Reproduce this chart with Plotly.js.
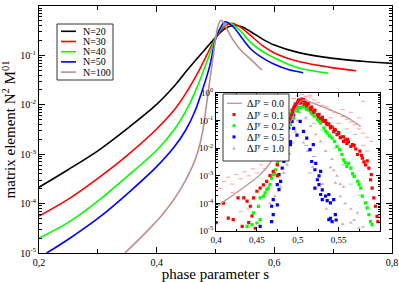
<!DOCTYPE html>
<html><head><meta charset="utf-8">
<script src="https://cdn.plot.ly/plotly-3.0.1.min.js"></script>
<style>html,body{margin:0;padding:0;background:#fff}#chart{width:399px;height:282px}</style>
</head><body><div id="chart"></div><script>
// ---- main panel data: N curves ----
const n20x = [0.20,0.25,0.30,0.35,0.40,0.43,0.45,0.475,0.50,0.515,0.53,0.545,0.56,0.58,0.60,0.64,0.70,0.75,0.80];
const n20y = [2.14e-4,4.9e-4,1.17e-3,3.3e-3,1.02e-2,2.4e-2,4.7e-2,0.105,0.229,0.339,0.407,0.38,0.302,0.214,0.162,0.115,0.087,0.076,0.069];
const n30x = [0.20,0.25,0.30,0.35,0.40,0.43,0.45,0.47,0.485,0.50,0.515,0.528,0.545,0.56,0.58,0.60,0.64,0.70,0.739];
const n30y = [5.6e-5,1.23e-4,3.24e-4,9.5e-4,3.24e-3,7.9e-3,1.74e-2,4.47e-2,0.10,0.224,0.38,0.447,0.355,0.251,0.158,0.112,0.076,0.056,0.049];
const n40x = [0.20,0.25,0.30,0.35,0.40,0.43,0.45,0.465,0.48,0.49,0.50,0.511,0.522,0.54,0.56,0.58,0.60,0.64,0.691];
const n40y = [2.0e-5,4.17e-5,1.12e-4,3.55e-4,1.2e-3,3.16e-3,7.6e-3,1.78e-2,5.0e-2,0.105,0.224,0.37,0.457,0.331,0.182,0.12,0.089,0.056,0.0437];
const n50x = [0.213,0.25,0.30,0.35,0.40,0.43,0.45,0.465,0.48,0.49,0.50,0.508,0.516,0.53,0.545,0.56,0.58,0.60,0.625,0.649];
const n50y = [1.0e-5,1.9e-5,5.0e-5,1.58e-4,5.6e-4,1.41e-3,3.16e-3,7.4e-3,2.4e-2,6.0e-2,0.209,0.355,0.479,0.38,0.224,0.135,0.089,0.066,0.051,0.0447];
const n100x = [0.346,0.38,0.41,0.44,0.46,0.47,0.478,0.484,0.489,0.494,0.50,0.504,0.509,0.514,0.52,0.53,0.545,0.56,0.579];
const n100y = [1.0e-5,2.5e-5,6.0e-5,1.9e-4,5.4e-4,1.12e-3,2.8e-3,8.9e-3,2.4e-2,6.3e-2,0.209,0.38,0.513,0.457,0.331,0.204,0.12,0.083,0.050];
const mainNames = ['N=20','N=30','N=40','N=50','N=100'];

// ---- inset data ----
const dj0x = [0.40,0.41,0.42,0.433,0.445,0.454,0.466,0.475,0.485,0.495,0.502,0.507,0.515,0.53,0.544,0.555,0.565,0.577];
const dj0y = [7.1e-5,1.2e-4,1.9e-4,3.6e-4,6.6e-4,1.1e-3,2.9e-3,7.9e-3,3.16e-2,0.158,0.447,0.562,0.479,0.316,0.219,0.158,0.107,0.0617];
const dj1x = [0.400,0.409,0.415,0.421,0.432,0.427,0.434,0.438,0.442,0.446,0.450,0.454,0.458,0.462,0.466,0.470,0.475,0.479,0.475,0.481,0.440,0.444,0.448,0.484,0.487,0.490,0.492,0.495,0.497,0.500,0.503,0.506,0.509,0.512,0.493,0.498,0.504,0.508,0.515,0.519,0.524,0.528,0.532,0.536,0.540,0.544,0.548,0.552,0.556,0.560,0.565,0.569,0.573,0.576,0.579,0.583,0.585,0.587,0.589,0.590,0.591,0.593,0.595,0.597,0.598,
  0.513,0.517,0.521,0.526,0.530,0.534,0.538,0.542,0.546,0.550,0.554,0.558,0.562,0.567,0.501,0.505,0.507,0.502,0.496,0.494,0.491,0.486,0.483,0.511,0.516,0.520,0.525,0.530,0.535,0.540,0.545,0.550,0.556,0.561,0.571,0.578,0.581];
const dj1y = [2.0e-5,1.02e-4,2.95e-5,2.57e-5,1.48e-5,1.58e-4,1.58e-4,1.2e-4,7.9e-5,1.58e-4,2.75e-4,3.6e-4,4.7e-4,6.3e-4,1.02e-3,1.45e-3,2.5e-3,4.4e-3,1.0e-3,8.9e-3,2.0e-5,3.5e-5,1.26e-5,1.78e-2,4.0e-2,8.9e-2,0.158,0.282,0.398,0.479,0.525,0.537,0.501,0.417,0.24,0.355,0.447,0.398,0.288,0.219,0.162,0.12,0.093,0.071,0.054,0.04,0.031,0.024,0.0178,0.015,0.0117,0.0126,5.9e-3,7.9e-3,4.4e-3,2.5e-3,3.5e-3,1.9e-3,7.2e-4,1.1e-3,3.6e-4,1.58e-4,7.9e-5,3.4e-5,2.2e-5,
  0.40,0.31,0.24,0.17,0.13,0.10,0.077,0.058,0.045,0.034,0.026,0.020,0.017,0.0135,0.56,0.60,0.58,0.43,0.33,0.20,0.12,0.028,0.014,0.34,0.25,0.20,0.14,0.105,0.08,0.062,0.048,0.037,0.026,0.021,0.0095,5.5e-3,3.2e-3];
const dj2x = [0.438,0.444,0.450,0.454,0.446,0.452,0.454,0.458,0.460,0.462,0.464,0.466,0.468,0.470,0.473,0.475,0.477,0.479,0.483,0.487,0.491,0.495,0.500,0.492,0.496,0.500,0.503,0.506,0.510,0.507,0.511,0.516,0.520,0.524,0.528,0.532,0.536,0.542,0.545,0.548,0.551,0.554,0.556,0.560,0.562,0.565,0.569,0.573,0.577,0.579,0.583,0.585,0.587,0.589,0.591,
  0.472,0.476,0.480,0.484,0.488,0.514,0.518,0.526,0.534,0.539,0.558,0.567,0.575];
const dj2y = [1.48e-5,1.7e-5,1.95e-5,2.57e-5,4.5e-5,7.8e-5,1.58e-4,1.82e-4,2.4e-4,3.16e-4,3.6e-4,4.8e-4,8.3e-4,1.1e-3,1.66e-3,2.9e-3,4.4e-3,1.02e-2,1.78e-2,3.5e-2,7.1e-2,0.123,0.219,0.178,0.24,0.282,0.302,0.316,0.282,0.331,0.251,0.19,0.145,0.11,0.081,0.054,0.035,0.023,0.0178,0.0117,8.9e-3,5.9e-3,3.8e-3,2.2e-3,2.8e-3,1.9e-3,9.5e-4,6.3e-4,3.6e-4,1.82e-4,1.05e-4,6.9e-5,3.9e-5,2.2e-5,1.7e-5,
  1.2e-3,3.6e-3,6.8e-3,1.4e-2,2.6e-2,0.24,0.17,0.095,0.042,0.028,3.0e-3,1.2e-3,4.8e-4];
const dj5x = [0.454,0.468,0.470,0.468,0.470,0.475,0.477,0.475,0.479,0.477,0.481,0.483,0.485,0.487,0.491,0.485,0.489,0.493,0.495,0.500,0.489,0.495,0.499,0.491,0.483,0.486,0.498,0.503,0.507,0.511,0.515,0.519,0.517,0.521,0.524,0.526,0.521,0.528,0.530,0.534,0.538,0.540,0.544,0.538,0.542,0.546,0.522,0.526,0.530,0.536,0.540,0.547,0.528];
const dj5y = [1.48e-5,2.2e-5,3.9e-5,7.9e-5,1.38e-4,8.9e-5,3.16e-4,4.8e-4,6.3e-4,1.1e-3,1.9e-3,3.3e-3,5.9e-3,1.02e-2,1.35e-2,2.3e-2,5.4e-2,9.3e-2,0.162,0.288,0.12,0.052,0.03,0.0174,0.126,0.25,0.4,0.093,0.041,0.023,8.9e-3,1.35e-2,3.3e-3,1.66e-3,7.2e-4,4.8e-4,3.6e-4,2.1e-4,1.38e-4,1.82e-4,2.1e-4,1.05e-4,1.38e-4,2.57e-5,2.2e-5,3.9e-5,2.8e-3,1.0e-3,3.1e-4,1.26e-4,2.9e-5,2.5e-5,1.45e-3];
const dj10x = [0.528,0.534,0.542,0.544,0.548,0.552,0.556,0.558,0.565,0.569,0.573,0.518,0.540,0.546,0.552,0.565,0.466,0.472,0.479,0.483,0.487,0.490,0.494,0.497,0.500,0.503,0.510,0.516,0.522,0.512,0.507,0.530,0.535,0.580,0.575,0.555];
const dj10y = [0.0178,7.9e-3,4.0e-3,1.58e-3,1.0e-3,5.0e-4,4.0e-4,1.0e-4,2.0e-5,2.5e-5,4.5e-5,2.1e-3,2.0e-3,5.6e-4,1.78e-4,6.3e-5,1.0e-4,1.78e-4,4.0e-4,1.26e-3,2.5e-3,6.3e-3,0.0158,0.04,0.1,0.2,0.126,0.063,0.0316,7.9e-3,0.0158,5.0e-4,6.3e-5,1.4e-5,1.26e-5,1.78e-5];
// faint small marks
const fRedx = [0.515,0.52,0.525,0.53,0.535,0.54,0.545,0.55,0.555,0.56,0.565,0.57,0.575,0.58,0.585,0.59,0.54,0.55,0.56,0.57,0.58,0.585,0.575,0.565,0.555,0.58,0.41,0.415,0.42,0.425,0.43,0.435,0.44,0.445,0.45,0.455,0.46,0.405,0.42,0.43,0.44,0.50,0.505,0.51,0.495,0.515];
const fRedy = [0.708,0.56,0.447,0.355,0.316,0.24,0.2,0.178,0.141,0.112,0.089,0.071,0.05,0.035,0.025,0.0178,0.126,0.079,0.05,0.0316,0.0126,7.9e-3,0.126,0.2,0.25,0.5,6.3e-4,8.9e-4,5.0e-4,1.1e-3,7.9e-4,1.4e-3,1.0e-3,1.8e-3,1.26e-3,2.5e-3,1.8e-3,3.5e-4,2.5e-4,5e-5,6.3e-5,0.79,0.89,0.76,0.63,0.83];
const fGrnx = [0.47,0.475,0.48,0.52,0.53,0.545,0.555,0.565,0.575];
const fGrny = [6.3e-3,0.0158,0.0316,0.079,0.045,0.01,2.5e-3,5.0e-4,2.0e-4];
const fBlux = [0.48,0.49,0.51,0.52,0.515];
const fBluy = [0.063,0.2,0.0126,5.0e-3,1.26e-3];
const insetNames = ['\u0394J<sup>y</sup> = 0.0','\u0394J<sup>y</sup> = 0.1','\u0394J<sup>y</sup> = 0.2','\u0394J<sup>y</sup> = 0.5','\u0394J<sup>y</sup> = 1.0'];
const xTickVals = [0.2,0.4,0.6,0.8], xTickText = ['0,2','0,4','0,6','0,8'];
const ixTickVals = [0.4,0.45,0.5,0.55], ixTickText = ['0,4','0,45','0,5','0,55'];
const yTickVals = [1e-5,1e-4,1e-3,1e-2,1e-1,1];
const yTickText = ['10<sup>-5</sup>','10<sup>-4</sup>','10<sup>-3</sup>','10<sup>-2</sup>','10<sup>-1</sup>','10<sup>0</sup>'];

const cBlack='#000000', cRed='#ff0000', cGreen='#00ff00', cBlue='#0000ff', cBrown='#bc8f8f';
const FONT='Liberation Serif';

const minorLog=[]; for(let d=-5; d<0; d++){ for(let k=2;k<10;k++){ minorLog.push(k*Math.pow(10,d)); } }

function line(x,y,c,w,xa,ya,sm){return {x:x,y:y,type:'scatter',mode:'lines',line:{color:c,width:w,shape:'spline',smoothing:sm},xaxis:xa,yaxis:ya,hoverinfo:'skip'};}
function pts(x,y,c,sym,sz,op,xa,ya){return {x:x,y:y,type:'scatter',mode:'markers',marker:{color:c,symbol:sym,size:sz,opacity:op,line:{width:0}},xaxis:xa,yaxis:ya,hoverinfo:'skip'};}
function dash(x,y,c,xa,ya){return {x:x,y:y,type:'scatter',mode:'markers',marker:{symbol:'line-ew',size:3,line:{color:c,width:1}},xaxis:xa,yaxis:ya,hoverinfo:'skip'};}

const data = [
  line(n20x,n20y,cBlack,1.6,'x','y',0.9),
  line(n30x,n30y,cRed,1.6,'x','y',0.9),
  line(n40x,n40y,cGreen,1.6,'x','y',0.9),
  line(n50x,n50y,cBlue,1.6,'x','y',0.9),
  line(n100x,n100y,cBrown,1.6,'x','y',0.8),
  dash(fRedx,fRedy,'rgba(255,80,80,0.55)','x2','y2'),
  dash(fGrnx,fGrny,'rgba(0,220,0,0.45)','x2','y2'),
  dash(fBlux,fBluy,'rgba(60,60,255,0.45)','x2','y2'),
  pts(dj10x,dj10y,'#c9a0a0','triangle-up',3.5,0.85,'x2','y2'),
  pts(dj5x,dj5y,cBlue,'square',3.2,1,'x2','y2'),
  pts(dj2x,dj2y,cGreen,'square',3.2,1,'x2','y2'),
  pts(dj1x,dj1y,cRed,'square',3.2,1,'x2','y2'),
  line(dj0x,dj0y,cBrown,1.2,'x2','y2',0.8)
];

// pixel -> paper helpers for legend placement
const L=39,R=392,T=6,B=253;
const PX = p => (p-L)/(R-L);
const PY = p => (B-p)/(B-T);

const shapes=[], annotations=[];
// main legend
shapes.push({type:'rect',xref:'paper',yref:'paper',x0:PX(57),x1:PX(113),y0:PY(80),y1:PY(24),line:{color:'#333',width:1},fillcolor:'white',layer:'above'});
const mCols=[cBlack,cRed,cGreen,cBlue,cBrown];
mainNames.forEach((n,i)=>{
  const yy=31.3+i*10.2;
  shapes.push({type:'line',xref:'paper',yref:'paper',x0:PX(61),x1:PX(76),y0:PY(yy),y1:PY(yy),line:{color:mCols[i],width:1.6},layer:'above'});
  annotations.push({xref:'paper',yref:'paper',x:PX(81),y:PY(yy),text:n,showarrow:false,xanchor:'left',yanchor:'middle',font:{family:FONT,size:10,color:'black'}});
});
// inset legend
shapes.push({type:'rect',xref:'paper',yref:'paper',x0:PX(223),x1:PX(289),y0:PY(161),y1:PY(94),line:{color:'#333',width:1},fillcolor:'white',layer:'above'});
const iCols=[cBrown,cRed,cGreen,cBlue,'#c9a0a0'];
insetNames.forEach((n,i)=>{
  const yy=103.3+i*11.2;
  if(i===0){
    shapes.push({type:'line',xref:'paper',yref:'paper',x0:PX(227),x1:PX(242),y0:PY(yy),y1:PY(yy),line:{color:cBrown,width:1.2},layer:'above'});
  } else if(i<4){
    shapes.push({type:'rect',xref:'paper',yref:'paper',x0:PX(232.5),x1:PX(235.5),y0:PY(yy+1.5),y1:PY(yy-1.5),line:{width:0},fillcolor:iCols[i],layer:'above'});
  } else {
    shapes.push({type:'path',xref:'paper',yref:'paper',path:'M '+PX(232.3)+' '+PY(yy+1.5)+' L '+PX(235.7)+' '+PY(yy+1.5)+' L '+PX(234)+' '+PY(yy-1.6)+' Z',line:{width:0},fillcolor:iCols[i],layer:'above'});
  }
  annotations.push({xref:'paper',yref:'paper',x:PX(245),y:PY(yy),text:n,showarrow:false,xanchor:'left',yanchor:'middle',font:{family:FONT,size:10,color:'black'}});
});

const axBase = {showgrid:false,zeroline:false,showline:true,linecolor:'black',linewidth:1,ticks:'inside',tickcolor:'black',mirror:'allticks'};

const layout = {
  width:399,height:282,margin:{l:L,r:399-R,t:T,b:282-B},
  paper_bgcolor:'white',plot_bgcolor:'white',showlegend:false,
  font:{family:FONT,size:10,color:'black'},
  xaxis:Object.assign({},axBase,{range:[0.2,0.8],tickvals:xTickVals,ticktext:xTickText,ticklen:6,tickfont:{family:FONT,size:10,color:'black'},
    minor:{tickvals:[0.3,0.5,0.7],ticks:'inside',ticklen:4,tickcolor:'black'},
    title:{text:'phase parameter s',font:{family:FONT,size:15,color:'black'},standoff:1},anchor:'y'}),
  yaxis:Object.assign({},axBase,{type:'log',range:[-5,0],tickvals:yTickVals,ticktext:yTickText,ticklen:6,tickfont:{family:FONT,size:10,color:'black'},
    minor:{tickvals:minorLog,ticks:'inside',ticklen:3,tickcolor:'black'},
    title:{text:'matrix element N<sup>2</sup> M<sup>01</sup>',font:{family:FONT,size:15,color:'black'},standoff:1},anchor:'x'}),
  xaxis2:Object.assign({},axBase,{domain:[PX(216),PX(379.5)],anchor:'y2',range:[0.4,0.6],tickvals:ixTickVals,ticktext:ixTickText,ticklen:4,
    minor:{tickvals:[0.425,0.475,0.525,0.575],ticks:'inside',ticklen:2.5,tickcolor:'black'},tickfont:{family:FONT,size:9,color:'black'}}),
  yaxis2:Object.assign({},axBase,{domain:[PY(231),PY(93)],anchor:'x2',type:'log',range:[-5,0],tickvals:yTickVals,ticktext:yTickText,ticklen:4,
    minor:{tickvals:minorLog,ticks:'inside',ticklen:2,tickcolor:'black'},tickfont:{family:FONT,size:9,color:'black'}}),
  shapes:shapes,annotations:annotations
};
Plotly.newPlot('chart',data,layout,{staticPlot:true,displayModeBar:false});
</script></body></html>
